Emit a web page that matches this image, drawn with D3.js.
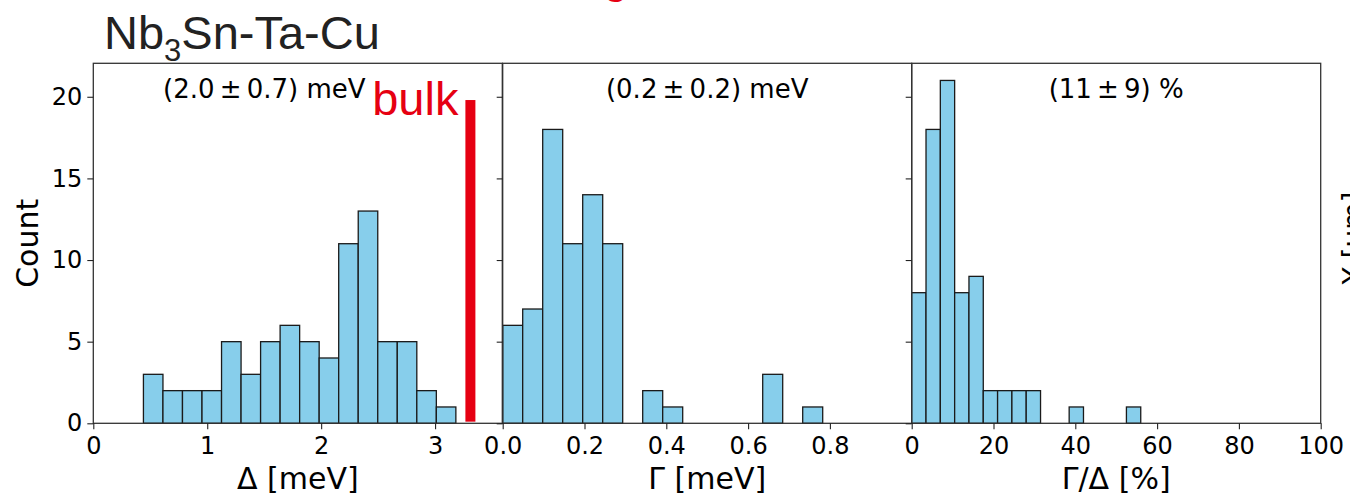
<!DOCTYPE html>
<html><head><meta charset="utf-8">
<script src="https://cdn.jsdelivr.net/npm/d3@7"></script>
<style>body{margin:0;background:#fff}svg{display:block}</style>
</head><body><svg id="c" width="1350" height="496"></svg>
<script>
// ---- data ----
const gapCounts   = [3,2,2,2,5,3,5,6,5,4,11,13,5,5,2,1];
const gapBinStart = 0.44, gapBinWidth = 0.1714;
const gammaCounts   = [6,7,18,11,14,11,0,2,1,0,0,0,0,3,0,1];
const gammaBinStart = 0.0, gammaBinWidth = 0.0489;
const ratioCounts   = [8,18,21,8,9,2,2,2,2,0,0,1,0,0,0,1];
const ratioBinStart = 0.0, ratioBinWidth = 3.5;
const gapTicks   = [0,1,2,3];
const gammaTicks = [0,0.2,0.4,0.6,0.8];
const ratioTicks = [0,20,40,60,80,100];
const countTicks = [0,5,10,15,20];
const xLabels = ["Δ [meV]","Γ [meV]","Γ/Δ [%]"];
const statLabels = ["(2.0\u2009±\u20090.7) meV","(0.2\u2009±\u20090.2) meV","(11\u2009±\u20099) %"];
const bulkGap = 3.31, bulkTop = 19.8;

// ---- layout ----
const svg = d3.select("#c");
const plotTop = 63.3, plotBottom = 423.3;
const lefts = [93.3, 502.7, 911.7], pw = 409;
const y = d3.scaleLinear().domain([0, 22.05]).range([plotBottom, plotTop]);

const panels = [
  {counts: gapCounts, start: gapBinStart, width: gapBinWidth, dom: [0, 3.59], ticks: gapTicks, fmt: d3.format("d"), label: xLabels[0], stat: statLabels[0], statX: 171},
  {counts: gammaCounts, start: gammaBinStart, width: gammaBinWidth, dom: [0, 1.0], ticks: gammaTicks, fmt: d3.format(".1f"), label: xLabels[1], stat: statLabels[1], statX: null},
  {counts: ratioCounts, start: ratioBinStart, width: ratioBinWidth, dom: [0, 100], ticks: ratioTicks, fmt: d3.format("d"), label: xLabels[2], stat: statLabels[2], statX: null}
];

const tickFont = "DejaVu Sans, sans-serif";

panels.forEach((p, i) => {
  const g = svg.append("g").attr("transform", `translate(${lefts[i]},0)`);
  const x = d3.scaleLinear().domain(p.dom).range([0, pw]);
  const bins = p.counts.map((c, k) => ({c, x0: p.start + k*p.width, x1: p.start + (k+1)*p.width}));
  g.selectAll("rect.bar").data(bins.filter(b => b.c > 0)).join("rect")
    .attr("class","bar")
    .attr("x", b => x(b.x0)).attr("width", b => x(b.x1) - x(b.x0))
    .attr("y", b => y(b.c)).attr("height", b => y(0) - y(b.c))
    .attr("fill", "#87CEEB").attr("stroke", "#1a1a1a").attr("stroke-width", 1.3);

  // frame
  g.append("rect").attr("x",0).attr("y",plotTop).attr("width",pw).attr("height",plotBottom-plotTop)
    .attr("fill","none").attr("stroke","#333").attr("stroke-width",1.3);

  // x axis
  const xa = g.append("g").attr("transform",`translate(0,${plotBottom})`)
    .call(d3.axisBottom(x).tickValues(p.ticks).tickFormat(p.fmt).tickSize(6).tickSizeOuter(0));
  xa.select(".domain").remove();
  xa.selectAll(".tick line").attr("stroke","#222").attr("stroke-width",1.1);
  xa.selectAll(".tick text").attr("y", 31).attr("dy", 0)
    .attr("font-family", tickFont).attr("font-size", 24).attr("fill","#000");

  // y axis
  const ya = g.append("g")
    .call(d3.axisLeft(y).tickValues(countTicks).tickSize(6).tickSizeOuter(0).tickPadding(5));
  ya.select(".domain").remove();
  ya.selectAll(".tick line").attr("stroke","#222").attr("stroke-width",1.1);
  if (i === 0) {
    ya.selectAll(".tick text").attr("font-family", tickFont).attr("font-size", 24).attr("fill","#000");
  } else {
    ya.selectAll(".tick text").remove();
  }

  // x label
  g.append("text").attr("x", pw/2).attr("y", 489).attr("text-anchor","middle")
    .attr("font-family", tickFont).attr("font-size", 30).attr("fill","#000").text(p.label);

  // stat annotation
  g.append("text").attr("x", p.statX === null ? pw/2 : p.statX).attr("y", 98)
    .attr("text-anchor","middle").attr("font-family", tickFont).attr("font-size", 26)
    .attr("fill","#000").text(p.stat);

  if (i === 0) {
    // bulk line
    g.append("rect").attr("x", x(bulkGap) - 5).attr("width", 10)
      .attr("y", y(bulkTop)).attr("height", y(0.1) - y(bulkTop)).attr("fill","#e60012");
    g.append("text").attr("x", x(bulkGap) - 12).attr("y", 115).attr("text-anchor","end")
      .attr("font-family","Liberation Sans, Arial, sans-serif").attr("font-size",47)
      .attr("fill","#e60012").text("bulk");
  }
});

// y label
svg.append("text").attr("transform",`translate(38,${(plotTop+plotBottom)/2}) rotate(-90)`)
  .attr("text-anchor","middle").attr("font-family", tickFont).attr("font-size",30)
  .attr("fill","#000").text("Count");

// title
const t = svg.append("text").attr("x",104).attr("y",49)
  .attr("font-family","Liberation Sans, Arial, sans-serif").attr("font-size",47).attr("fill","#222");
t.append("tspan").text("Nb");
t.append("tspan").attr("font-size",31).attr("dy",12).text("3");
t.append("tspan").attr("dy",-12).text("Sn-Ta-Cu");

// cut-off elements from neighbouring content
svg.append("text").attr("x",603).attr("y",-8)
  .attr("font-family","Liberation Sans, Arial, sans-serif").attr("font-size",46)
  .attr("fill","#e60012").text("g");
svg.append("text").attr("transform","translate(1363,238) rotate(-90)")
  .attr("text-anchor","middle").attr("font-family", tickFont).attr("font-size",28)
  .attr("fill","#000").text("Y [μm]");
</script></body></html>
